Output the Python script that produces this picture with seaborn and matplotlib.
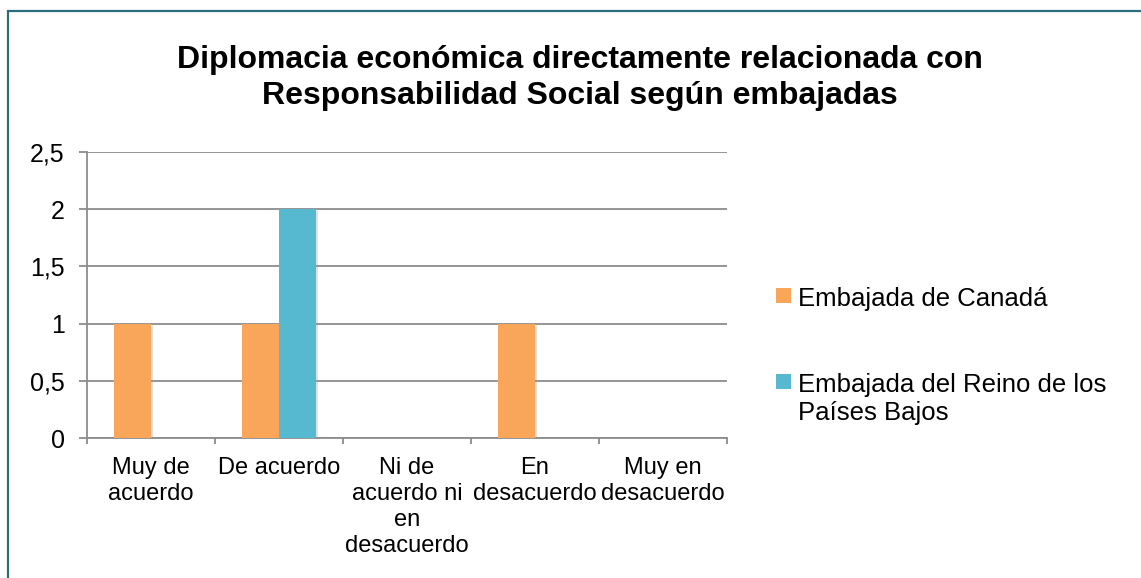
import matplotlib
matplotlib.use("Agg")
import matplotlib.pyplot as plt
from matplotlib.patches import Rectangle
from matplotlib.legend_handler import HandlerBase
from matplotlib.ticker import FixedLocator, FuncFormatter
import matplotlib.patheffects as pe
import seaborn as sns
import pandas as pd

# --- data -----------------------------------------------------------------
categories = [
    "Muy de\nacuerdo",
    "De acuerdo",
    "Ni de\nacuerdo ni\nen\ndesacuerdo",
    "En\ndesacuerdo",
    "Muy en\ndesacuerdo",
]
canada = [1, 1, 0, 1, 0]
paises_bajos = [0, 2, 0, 0, 0]
series_names = ["Embajada de Canadá", "Embajada del Reino de los\nPaíses Bajos"]
y_ticks = [0, 0.5, 1, 1.5, 2, 2.5]
title = ("Diplomacia económica directamente relacionada con\n"
         "Responsabilidad Social según embajadas")

colors = ["#F9A65A", "#57B9D0"]

df = pd.DataFrame({
    "categoria": categories * 2,
    "valor": canada + paises_bajos,
    "embajada": [series_names[0]] * len(categories) + [series_names[1]] * len(categories),
})

# --- figure ---------------------------------------------------------------
sns.set_theme(style="white")
plt.rcParams["font.family"] = ["Liberation Sans", "DejaVu Sans"]
plt.rcParams["text.color"] = "black"

W, H = 1141, 578
fig = plt.figure(figsize=(W / 100, H / 100), dpi=100)
ax = fig.add_axes([87 / W, 1 - 438 / H, (727 - 87) / W, (438 - 152) / H])

sns.barplot(data=df, x="categoria", y="valor", hue="embajada",
            palette=colors, width=0.58, saturation=1, ax=ax,
            order=categories, hue_order=series_names, legend=False)

shadow = [pe.SimplePatchShadow(offset=(1.5, -1.5), shadow_rgbFace="#999999", alpha=0.3),
          pe.Normal()]
for p in ax.patches:
    p.set_edgecolor("none")
    p.set_path_effects(shadow)
    p.set_zorder(3)

grid_col = "#8C8C8C"
ax.set_xlim(-0.5, len(categories) - 0.5)
ax.set_ylim(0, 2.5)
ax.set_yticks(y_ticks)
ax.yaxis.set_major_formatter(FuncFormatter(lambda v, _: f"{v:g}".replace(".", ",")))
ax.yaxis.grid(True, color=grid_col, linewidth=1.3, zorder=0)
ax.set_axisbelow(True)
ax.set_xlabel("")
ax.set_ylabel("")

for side in ("top", "right"):
    ax.spines[side].set_visible(False)
for side in ("left", "bottom"):
    ax.spines[side].set_color(grid_col)
    ax.spines[side].set_linewidth(1.3)

ax.tick_params(axis="y", which="major", length=6, width=1.3, color=grid_col,
               pad=10, labelsize=18, labelcolor="black", left=True)
ax.xaxis.set_minor_locator(FixedLocator([i - 0.5 for i in range(len(categories) + 1)]))
ax.tick_params(axis="x", which="minor", length=4.5, width=1.3, color=grid_col, bottom=True)
ax.tick_params(axis="x", which="major", length=0, pad=14, labelsize=17, labelcolor="black")
for lbl in ax.get_xticklabels():
    lbl.set_linespacing(1.22)
    lbl.set_verticalalignment("top")

# --- legend: square marker beside the first line of each label ------------
LEG_FS = 18.5
LEG_LS = 1.22


class SquareFirstLine(HandlerBase):
    def create_artists(self, legend, orig_handle, xdescent, ydescent,
                       width, height, fontsize, trans):
        n_lines = orig_handle.get_label().count("\n") + 1
        s = 0.6 * fontsize
        y0 = -ydescent + 0.1 * fontsize + (n_lines - 1) * 0.64 * fontsize
        r = Rectangle((-xdescent, y0), s, s, facecolor=orig_handle.get_facecolor(),
                      edgecolor="none", transform=trans)
        return [r]


handles = [Rectangle((0, 0), 1, 1, facecolor=c, label=n) for c, n in zip(colors, series_names)]
leg = fig.legend(handles=handles, labels=series_names,
                 handler_map={Rectangle: SquareFirstLine()},
                 loc="upper left", bbox_to_anchor=(776 / W, 1 - 287 / H),
                 frameon=False, fontsize=LEG_FS, handlelength=0.6, handletextpad=0.25,
                 labelspacing=2.4, borderpad=0, borderaxespad=0)
for t in leg.get_texts():
    t.set_linespacing(LEG_LS)
    t.set_color("black")

fig.text(580 / W, 1 - 78 / H, title, ha="center", va="center",
         fontsize=23, fontweight="bold", linespacing=1.28, color="black")

# frame around the chart area (left and top edges show)
fig.add_artist(Rectangle((8 / W, -0.5), 2.0, (1 - 11 / H) + 0.5,
                         transform=fig.transFigure, fill=False,
                         edgecolor="#2B6E7B", linewidth=1.6))

fig.savefig("out.png", dpi=100, facecolor="white")
